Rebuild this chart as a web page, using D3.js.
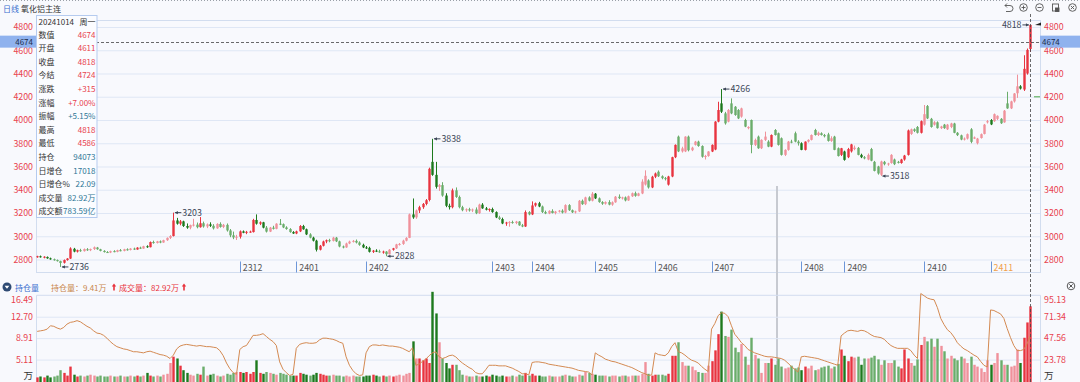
<!DOCTYPE html>
<html>
<head>
<meta charset="utf-8">
<script src="https://cdn.jsdelivr.net/npm/d3@7/dist/d3.min.js"></script>
<style>
body { margin: 0; background: #f8f9fd; }
svg { display: block; font-family: "Noto Sans CJK SC", "Noto Sans", sans-serif; }
</style>
</head>
<body>
<svg id="chart" width="1080" height="382"></svg>
<script>
// daily candles [open, high, low, close]
const candles = [
[2822,2832,2815,2828],[2828,2834,2816,2819],[2819,2828,2810,2824],[2822,2826,2806,2810],[2810,2816,2798,2802],[2802,2808,2790,2795],[2795,2800,2782,2786],[2786,2790,2736,2770],[2772,2800,2765,2795],[2795,2812,2790,2808],
[2808,2905,2805,2895],[2892,2900,2862,2868],[2868,2885,2860,2880],[2880,2892,2866,2872],[2872,2895,2868,2890],[2888,2898,2874,2880],[2880,2894,2872,2890],[2890,2912,2882,2905],[2903,2908,2884,2888],[2888,2892,2870,2874],
[2874,2880,2860,2864],[2864,2872,2856,2860],[2860,2876,2855,2872],[2872,2880,2862,2866],[2866,2884,2862,2880],[2880,2890,2870,2874],[2874,2892,2870,2888],[2888,2896,2876,2882],[2882,2898,2878,2894],[2894,2902,2882,2886],
[2886,2906,2884,2902],[2902,2910,2890,2894],[2894,2918,2892,2914],[2914,2922,2900,2906],[2906,2955,2904,2950],[2950,2962,2936,2942],[2942,2960,2938,2956],[2956,2964,2940,2946],[2946,2970,2944,2966],[2966,2990,2960,2986],
[2986,3010,2976,3002],[3002,3203,2998,3136],[3136,3158,3100,3108],[3108,3140,3094,3128],[3128,3134,3080,3088],[3088,3110,3064,3074],[3074,3100,3060,3096],[3096,3150,3084,3100],[3100,3118,3068,3078],[3078,3165,3074,3112],
[3112,3126,3074,3084],[3084,3110,3070,3102],[3102,3120,3080,3090],[3090,3104,3058,3068],[3068,3112,3064,3106],[3106,3120,3074,3080],[3080,3106,3070,3098],[3098,3110,3040,3050],[3050,3062,2992,3008],[3008,3040,2975,2990],
[2990,3012,2968,2996],[2996,3050,2980,3042],[3042,3050,3026,3030],[3030,3046,3018,3038],[3038,3048,3030,3040],[3036,3150,3032,3140],[3140,3188,3100,3108],[3108,3128,3096,3120],[3120,3124,3068,3074],[3074,3088,3032,3040],
[3040,3080,3036,3074],[3074,3090,3058,3064],[3064,3112,3060,3108],[3108,3148,3096,3104],[3104,3110,3070,3076],[3076,3086,3056,3062],[3062,3070,3030,3036],[3036,3044,3020,3024],[3024,3048,3018,3042],[3042,3096,3036,3088],
[3088,3098,3056,3060],[3060,3066,3010,3016],[3016,3026,2982,2988],[2988,2996,2955,2962],[2962,2970,2869,2884],[2884,2925,2878,2918],[2918,2962,2912,2955],[2955,2972,2940,2966],[2966,2978,2948,2960],[2960,2995,2955,2988],
[2988,2994,2950,2956],[2956,2962,2905,2912],[2912,2920,2896,2904],[2904,2945,2900,2938],[2938,2962,2932,2954],[2954,2968,2946,2960],[2960,2972,2938,2946],[2946,2956,2918,2926],[2926,2936,2898,2904],[2904,2916,2890,2900],
[2900,2910,2860,2866],[2866,2882,2856,2876],[2876,2888,2864,2870],[2870,2884,2858,2862],[2862,2876,2850,2868],[2868,2872,2828,2846],[2846,2890,2842,2884],[2884,2900,2876,2896],[2896,2935,2890,2930],[2930,2942,2920,2934],
[2934,2970,2926,2962],[2962,2992,2956,2986],[2986,3195,2984,3188],[3188,3325,3150,3162],[3162,3230,3150,3222],[3222,3262,3200,3250],[3250,3286,3236,3278],[3278,3320,3266,3310],[3312,3590,3300,3580],[3640,3838,3520,3528],
[3528,3640,3410,3425],[3425,3450,3390,3440],[3440,3465,3340,3350],[3350,3370,3250,3262],[3262,3280,3230,3250],[3250,3410,3240,3395],[3395,3420,3330,3338],[3338,3350,3240,3250],[3250,3262,3215,3224],[3224,3240,3210,3232],
[3232,3245,3212,3222],[3222,3238,3208,3230],[3230,3248,3190,3198],[3198,3280,3192,3272],[3272,3285,3236,3240],[3240,3252,3222,3228],[3228,3240,3212,3234],[3234,3246,3202,3208],[3208,3214,3156,3162],[3162,3176,3140,3148],
[3148,3160,3104,3110],[3110,3124,3090,3118],[3118,3130,3082,3122],[3122,3134,3108,3114],[3114,3132,3104,3126],[3126,3130,3090,3094],[3094,3106,3078,3084],[3084,3222,3080,3208],[3208,3216,3180,3188],[3188,3300,3182,3265],
[3265,3290,3254,3284],[3284,3296,3250,3256],[3256,3264,3200,3208],[3208,3220,3190,3196],[3196,3224,3190,3218],[3218,3232,3196,3200],[3200,3218,3188,3212],[3212,3226,3204,3220],[3220,3232,3196,3204],[3204,3275,3198,3268],
[3268,3276,3218,3224],[3224,3230,3200,3206],[3206,3220,3196,3214],[3214,3312,3208,3305],[3305,3316,3270,3276],[3276,3340,3268,3334],[3334,3344,3300,3306],[3306,3380,3300,3366],[3366,3372,3320,3326],[3326,3334,3288,3294],
[3294,3302,3270,3280],[3280,3300,3272,3294],[3294,3310,3266,3272],[3272,3300,3262,3292],[3292,3346,3288,3340],[3340,3360,3320,3328],[3328,3340,3316,3334],[3334,3342,3300,3308],[3308,3350,3304,3344],[3344,3376,3338,3370],
[3370,3384,3340,3348],[3348,3374,3344,3368],[3368,3490,3362,3470],[3445,3567,3436,3520],[3480,3490,3410,3420],[3420,3520,3414,3512],[3512,3548,3500,3540],[3555,3566,3510,3516],[3516,3524,3490,3500],[3500,3510,3480,3494],
[3444,3520,3436,3514],[3514,3684,3508,3680],[3680,3790,3672,3786],[3857,3866,3724,3730],[3730,3770,3720,3756],[3730,3860,3724,3857],[3857,3866,3730,3740],[3740,3770,3732,3762],[3786,3820,3780,3814],[3814,3822,3770,3776],
[3776,3782,3676,3684],[3684,3700,3660,3690],[3690,3732,3684,3729],[3729,3790,3724,3786],[3746,3990,3740,3986],[3986,4157,3980,4086],[4143,4266,4060,4071],[4057,4070,3960,3971],[3986,4094,3980,4086],[4143,4186,4050,4057],
[4114,4120,4036,4043],[4086,4094,4008,4014],[4029,4106,4020,4100],[4000,4010,3938,3943],[3930,3946,3920,3940],[4000,4004,3714,3786],[3786,3840,3776,3829],[3857,3866,3752,3757],[3757,3834,3750,3829],[3829,3900,3820,3857],
[3814,3826,3766,3771],[3771,3876,3766,3871],[3914,3922,3866,3871],[3886,3892,3780,3786],[3843,3850,3694,3700],[3700,3748,3690,3743],[3743,3820,3736,3814],[3814,3830,3800,3810],[3886,3900,3808,3814],[3814,3826,3780,3800],
[3800,3808,3740,3743],[3743,3816,3738,3814],[3814,3834,3806,3829],[3829,3876,3824,3871],[3914,3924,3866,3871],[3871,3900,3862,3890],[3886,3894,3866,3871],[3871,3880,3850,3860],[3876,3890,3814,3820],[3820,3860,3812,3843],
[3857,3864,3740,3743],[3757,3764,3686,3690],[3700,3760,3690,3757],[3729,3736,3650,3657],[3680,3760,3672,3750],[3730,3795,3720,3790],[3750,3780,3740,3762],[3760,3768,3696,3700],[3700,3710,3672,3680],[3680,3690,3662,3670],
[3660,3712,3654,3700],[3750,3760,3645,3650],[3640,3648,3558,3562],[3600,3606,3530,3540],[3529,3650,3518,3643],[3640,3648,3610,3620],[3620,3632,3606,3626],[3630,3706,3624,3700],[3660,3668,3612,3620],[3640,3648,3626,3636],
[3630,3666,3624,3660],[3660,3700,3650,3694],[3700,3918,3694,3910],[3880,3926,3872,3920],[3920,3928,3896,3906],[3940,3948,3884,3890],[3890,3996,3884,3990],[3960,4129,3952,4050],[4120,4129,4008,4014],[4010,4018,3934,3940],
[3960,3990,3952,3980],[3980,3988,3926,3930],[3930,3950,3922,3944],[3960,3966,3924,3930],[3920,3966,3914,3960],[3940,3976,3930,3970],[3970,3976,3886,3890],[3890,3896,3862,3870],[3868,3874,3826,3832],[3832,3850,3824,3840],
[3840,3884,3832,3878],[3920,3930,3800,3812],[3840,3858,3836,3850],[3800,3846,3790,3840],[3845,3884,3840,3878],[3880,3966,3876,3960],[3980,4000,3970,3990],[4000,4008,3956,3962],[3990,4056,3984,4050],[4010,4040,4000,4036],
[4010,4016,3966,3972],[3980,4086,3976,4080],[4143,4243,4096,4100],[4100,4166,4094,4160],[4160,4232,4150,4228],[4230,4390,4190,4290],[4290,4300,4262,4270],[4262,4557,4250,4440],[4400,4615,4390,4603],[4611,4818,4586,4818]
];

// volume, 万手
const volume = [
4,5,4,6,4,5,6,12,9,6, 16,7,5,6,5,6,7,6,5,6, 5,5,6,5,5,6,5,5,6,5, 6,5,6,9,6,5,6,5,7,8,
20,27,25,17,12,9,7,6,8,7, 16,6,7,8,6,5,6,8,7,9, 10,10,9,10,8,10,23,9,8,10, 9,8,7,9,8,7,6,6,6,9,
8,7,6,7,9,8,7,6,6,7, 6,6,5,6,5,6,5,5,5,6, 6,7,6,5,6,5,6,5,6,7, 6,8,9,44,25,25,23,25,20,99,
75,43,25,20,14,18,18,12,7,6, 5,5,6,5,5,6,5,7,6,5, 6,5,5,6,5,7,6,9,6,8, 6,6,5,5,6,5,5,5,6,7,
6,5,5,7,6,10,9,8,7,6, 6,6,5,6,6,5,6,6,5,6, 6,6,8,21,8,6,7,7,7,6, 8,28,28,43,21,17,17,16,12,10,
9,9,17,22,34,52,77,50,49,57, 37,32,41,27,18,48,29,25,9,20, 20,25,18,25,16,14,15,17,14,15, 12,16,14,17,12,13,15,16,17,14,
16,19,35,28,22,27,26,27,18,25, 25,26,28,24,18,23,20,20,23,16, 14,35,25,20,17,24,40,49,44,47, 38,47,39,33,25,28,25,23,27,25,
20,27,18,16,14,10,23,18,20,31, 23,18,18,16,17,35,20,48,65,82.92
];

// open interest, 万手
const openInt = [
10.1,10.2,10.3,10.5,11.1,11.0,10.7,10.5,10.8,11.4, 11.7,11.8,12.0,11.8,11.4,11.0,10.7,10.2,9.8,9.7,
9.4,8.9,8.3,7.8,7.4,7.2,7.0,6.9,6.7,6.5, 6.5,6.4,6.3,6.5,6.6,6.4,6.2,6.0,5.9,5.7,
5.3,5.9,7.0,7.5,7.7,7.8,7.7,7.6,7.5,7.6, 7.5,7.4,7.4,7.3,7.2,6.7,5.8,4.5,3.5,2.8,
2.5,6.9,7.4,7.6,8.5,9.4,9.4,9.5,9.7,9.2, 8.7,8.3,7.6,4.7,3.4,2.8,2.3,2.5,7.1,7.8,
8.0,8.1,8.0,8.0,8.1,8.6,8.9,8.9,8.8,8.7, 8.5,8.2,8.0,5.6,4.1,3.2,2.6,2.3,2.4,6.3,
7.4,7.7,7.7,7.6,7.7,7.6,7.5,7.5,7.4,7.3, 7.1,6.8,6.5,7.2,4.1,4.3,4.8,5.2,5.8,6.3,
6.5,5.6,5.3,5.5,5.8,5.9,5.6,5.0,4.5,4.1, 3.7,3.4,2.8,2.6,2.6,3.3,4.1,4.1,4.1,4.0,
4.0,4.0,3.8,3.6,3.3,3.0,2.6,2.6,2.4,4.6, 4.7,4.7,4.6,4.5,4.3,4.2,4.1,4.0,3.9,3.8,
3.7,3.6,3.4,3.2,3.1,3.0,2.9,2.4,6.3,5.9, 5.6,5.2,5.0,4.8,4.7,4.5,4.3,4.1,3.9,3.7,
3.4,3.1,2.8,2.6,2.3,2.4,6.3,6.0,5.9,5.8, 6.3,7.4,8.1,6.5,6.3,5.9,5.4,5.0,4.8,4.5,
3.9,3.4,3.0,10.5,11.5,12.9,13.4,13.3,12.7,11.1, 9.6,8.9,8.1,7.6,6.9,6.6,6.3,6.1,5.9,5.7,
5.6,5.6,5.5,5.4,5.3,5.0,4.5,3.9,3.4,2.9, 5.6,5.7,5.6,5.5,5.4,5.3,5.1,4.9,4.7,4.5,
4.3,4.1,9.3,9.8,10.2,10.3,10.2,10.1,10.3,10.2, 9.9,9.5,9.2,9.1,9.0,8.7,8.1,7.6,7.3,7.1,
7.1,7.1,7.1,6.7,5.9,5.3,16.8,16.4,16.0,15.8, 15.7,14.3,12.4,11.3,10.4,9.9,9.1,8.1,7.5,7.0,
6.7,6.3,5.9,5.6,4.8,4.1,3.8,13.9,13.8,13.5, 13.2,12.4,10.6,9.0,7.6,6.7,6.7,6.9,7.9,9.41
];

// main contract rolls shown on the date band
const rollNames = ["2312","2401","2402","2403","2404","2405","2406","2407","2408","2409","2410","2411"];
const rollIndex = [61,78,99,137,149,168,186,203,230,243,267,287];

const priceTicks = [2800,3000,3200,3400,3600,3800,4000,4200,4400,4600,4800];
const oiTicks = [5.11,8.91,12.70,16.49];
const volTicks = [23.78,47.56,71.34,95.13];

// extreme-price marks: [index, "h" | "l"]
const extremes = [[7,"l"],[41,"h"],[105,"l"],[119,"h"],[206,"h"],[254,"l"]];

const crossValue = 4674;
const infoRows = [
  ["数值","4674","up"],["开盘","4611","up"],["收盘","4818","up"],["今结","4724","up"],
  ["涨跌","+315","up"],["涨幅","+7.00%","up"],["振幅","+5.15%","info"],["最高","4818","up"],
  ["最低","4586","up"],["持仓","94073","info"],["日增仓","17018","info"],["日增仓%","22.09","info"],
  ["成交量","82.92万","info"],["成交额","783.59亿","info"]
];

const RED = "#e8343f", PINK = "#f0919a", GREEN = "#1d7a1d", LGREEN = "#6aad6a";
const AXRED = "#e8424e", GRID = "#dfe7f5", FRAME = "#d2ddef";
const FONT = "Noto Sans CJK SC";

const svg = d3.select("#chart");
const plotL = 36, plotR = 1040;
const mainTop = 20.5, mainBot = 272.5;
const volTop = 295.3, volBot = 381;

const x = d3.scaleBand()
  .domain(d3.range(candles.length))
  .range([plotL, 1031.6])
  .paddingInner(0.3)
  .paddingOuter(0);
const bw = x.bandwidth();
const cx = i => x(i) + bw / 2;

const y = d3.scaleLinear().domain([2800, 4800]).range([259.5, 27]);
const yVol = d3.scaleLinear().domain([0, 95.13]).range([volBot, volTop]);
const yOI = d3.scaleLinear().domain([1.32, 16.49]).range([volBot, volTop]);

const isUp = d => d[3] >= d[0];
const isLight = i => i > 0 && openInt[i] < openInt[i - 1];
const colorOf = i => isUp(candles[i]) ? (isLight(i) ? PINK : RED) : (isLight(i) ? LGREEN : GREEN);

const styleAxis = g => g.call(g => g.select(".domain").remove())
  .call(g => g.selectAll("text").attr("fill", AXRED).attr("font-size", 8.8).attr("font-family", FONT));

// top dotted border
svg.append("line").attr("x1", 0).attr("x2", 1080).attr("y1", 0.5).attr("y2", 0.5)
  .attr("stroke", "#9aa0a8").attr("stroke-dasharray", "1,2");

// title
svg.append("text").attr("x", 3).attr("y", 11.5).attr("font-size", 8).attr("fill", "#3a6fcf").text("日线");
svg.append("text").attr("x", 21).attr("y", 11.5).attr("font-size", 8).attr("fill", "#333").text("氧化铝主连");

// ---------- main price panel ----------
svg.append("g")
  .attr("transform", `translate(${plotL},0)`)
  .call(d3.axisLeft(y).tickValues(priceTicks).tickSize(-(plotR - plotL)).tickFormat(""))
  .call(g => g.select(".domain").remove())
  .call(g => g.selectAll("line").attr("stroke", GRID));

svg.append("rect")
  .attr("x", plotL + 0.5).attr("y", mainTop)
  .attr("width", plotR - plotL).attr("height", mainBot - mainTop)
  .attr("fill", "none").attr("stroke", FRAME);

svg.append("g")
  .attr("transform", `translate(${plotL},0)`)
  .call(d3.axisLeft(y).tickValues(priceTicks).tickSize(0).tickPadding(3).tickFormat(d3.format("d")))
  .call(styleAxis);

svg.append("g")
  .attr("transform", `translate(${plotR},0)`)
  .call(d3.axisRight(y).tickValues(priceTicks).tickSize(0).tickPadding(4).tickFormat(d3.format("d")))
  .call(styleAxis);

// contract roll band
const rolls = svg.append("g");
rollIndex.forEach((idx, k) => {
  rolls.append("line").attr("x1", Math.round(cx(idx)) + 0.5).attr("x2", Math.round(cx(idx)) + 0.5)
    .attr("y1", 261.5).attr("y2", 272.5).attr("stroke", "#6d96d8");
  rolls.append("text").attr("x", cx(idx) + 3).attr("y", 270.5)
    .attr("font-size", 8.8).attr("fill", k === rollNames.length - 1 ? "#f0a04b" : "#555")
    .text(rollNames[k]);
});

// scroll marker
svg.append("line").attr("x1", 777).attr("x2", 777).attr("y1", 186).attr("y2", 382)
  .attr("stroke", "#c7cad1").attr("stroke-width", 2);

// candles
const cg = svg.append("g").selectAll("g").data(candles).join("g");
cg.append("line")
  .attr("x1", (d, i) => Math.round(cx(i)) + 0.5).attr("x2", (d, i) => Math.round(cx(i)) + 0.5)
  .attr("y1", d => y(d[1])).attr("y2", d => y(d[2]))
  .attr("stroke", (d, i) => colorOf(i));
cg.append("rect")
  .attr("x", (d, i) => Math.round(cx(i)) - 0.7)
  .attr("width", 2.4)
  .attr("y", d => y(Math.max(d[0], d[3])))
  .attr("height", d => Math.max(1, Math.abs(y(d[0]) - y(d[3]))))
  .attr("fill", (d, i) => colorOf(i));

// extreme labels
const ann = svg.append("g").attr("font-size", 8.8).attr("fill", "#3b4657");
extremes.forEach(([i, t]) => {
  const v = t === "h" ? candles[i][1] : candles[i][2];
  const yy = y(v);
  ann.append("line").attr("x1", cx(i) + 1.5).attr("x2", cx(i) + 8).attr("y1", yy).attr("y2", yy)
    .attr("stroke", "#3b4657");
  ann.append("path").attr("d", `M${cx(i) + 1.5},${yy} l3,-1.6 v3.2 z`).attr("fill", "#3b4657");
  ann.append("text").attr("x", cx(i) + 9).attr("y", yy + 3.2).text(v);
});
{
  const last = candles.length - 1, v = candles[last][1], yy = y(v);
  ann.append("line").attr("x1", cx(last) - 8).attr("x2", cx(last) - 1.5).attr("y1", yy).attr("y2", yy)
    .attr("stroke", "#3b4657");
  ann.append("path").attr("d", `M${cx(last) - 1.5},${yy} l-3,-1.6 v3.2 z`).attr("fill", "#3b4657");
  ann.append("text").attr("x", cx(last) - 9).attr("y", yy + 3.2).attr("text-anchor", "end").text(v);
}

// small markers at right edge
svg.append("line").attr("x1", 1034).attr("x2", 1040).attr("y1", y(4200)).attr("y2", y(4200))
  .attr("stroke", "#7fbf7f").attr("stroke-width", 1.5);
svg.append("path").attr("d", `M1035,${y(4800) - 2} l6,-2.5 v3 z`).attr("fill", "#222");

// ---------- volume / open interest panel ----------
svg.append("g")
  .attr("transform", `translate(${plotL},0)`)
  .call(d3.axisLeft(yOI).tickValues(oiTicks.slice(0, 3)).tickSize(-(plotR - plotL)).tickFormat(""))
  .call(g => g.select(".domain").remove())
  .call(g => g.selectAll("line").attr("stroke", GRID));

svg.append("path")
  .attr("d", `M${plotL + 0.5},${volBot + 2}V${volTop}H${plotR + 0.5}V${volBot + 2}`)
  .attr("fill", "none").attr("stroke", FRAME);

svg.append("g")
  .attr("transform", `translate(${plotL},0)`)
  .call(d3.axisLeft(yOI).tickValues(oiTicks).tickSize(0).tickPadding(3).tickFormat(d3.format(".2f")))
  .call(styleAxis)
  .call(g => g.selectAll(".tick").filter(d => d === 16.49).select("text").attr("dy", "0.85em"));

svg.append("g")
  .attr("transform", `translate(${plotR},0)`)
  .call(d3.axisRight(yVol).tickValues(volTicks).tickSize(0).tickPadding(4).tickFormat(d3.format(".2f")))
  .call(styleAxis)
  .call(g => g.selectAll(".tick").filter(d => d === 95.13).select("text").attr("dy", "0.85em"));

svg.append("text").attr("x", 33).attr("y", 379).attr("text-anchor", "end")
  .attr("font-size", 9.5).attr("fill", "#333").text("万");
svg.append("text").attr("x", 1044).attr("y", 379)
  .attr("font-size", 9.5).attr("fill", "#333").text("万");

// volume bars
svg.append("g").selectAll("rect").data(volume).join("rect")
  .attr("x", (d, i) => Math.round(cx(i)) - 0.7)
  .attr("width", 2.4)
  .attr("y", d => yVol(d))
  .attr("height", d => 382 - yVol(d))
  .attr("fill", (d, i) => colorOf(i));

// open interest line
svg.append("path")
  .datum(openInt)
  .attr("d", d3.line().x((d, i) => cx(i)).y(d => yOI(d)))
  .attr("fill", "none").attr("stroke", "#d48a52").attr("stroke-width", 1);

// legend row
svg.append("circle").attr("cx", 7).attr("cy", 287).attr("r", 4.5).attr("fill", "#2e4a73");
svg.append("path").attr("d", "M4.6,285.8 h4.8 l-2.4,3 z").attr("fill", "#fff");
svg.append("text").attr("x", 15).attr("y", 290.5).attr("font-size", 8).attr("fill", "#3a6fcf").text("持仓量");
svg.append("text").attr("x", 51).attr("y", 290.5).attr("font-size", 8).attr("fill", "#c8864b")
  .text("持仓量：" + openInt[openInt.length - 1] + "万");
const arrow = (ax) => svg.append("path")
  .attr("d", `M${ax},283.5 l-2.2,3 h1.4 v4 h1.6 v-4 h1.4 z`).attr("fill", "#e8323c");
arrow(114);
svg.append("text").attr("x", 119).attr("y", 290.5).attr("font-size", 8).attr("fill", "#e8323c")
  .text("成交量：" + volume[volume.length - 1].toFixed(2) + "万");
arrow(184);

// panel close icon
svg.append("circle").attr("cx", 1071).attr("cy", 286).attr("r", 3.8).attr("fill", "none").attr("stroke", "#555");
svg.append("path").attr("d", "M1069.3,284.3 l3.4,3.4 M1072.7,284.3 l-3.4,3.4").attr("stroke", "#555");

// ---------- crosshair ----------
const lastX = Math.round(cx(candles.length - 1)) + 0.5;
svg.append("line").attr("x1", plotL).attr("x2", plotR).attr("y1", Math.round(y(crossValue)) + 0.5).attr("y2", Math.round(y(crossValue)) + 0.5)
  .attr("stroke", "#444").attr("stroke-dasharray", "3,2").attr("stroke-width", 0.8);
svg.append("line").attr("x1", lastX).attr("x2", lastX).attr("y1", 14).attr("y2", 382)
  .attr("stroke", "#444").attr("stroke-dasharray", "3,2").attr("stroke-width", 0.8);

// value boxes cover the 4600 tick labels, as in the original
const boxY = y(crossValue) - 6;
svg.append("rect").attr("x", 0).attr("y", boxY).attr("width", plotL).attr("height", 12).attr("fill", "#8fb2ee");
svg.append("text").attr("x", 33).attr("y", boxY + 9).attr("text-anchor", "end").attr("font-size", 8).attr("fill", "#1d2d4a").text(crossValue);
svg.append("rect").attr("x", plotR).attr("y", boxY).attr("width", 1080 - plotR).attr("height", 12).attr("fill", "#8fb2ee");
svg.append("text").attr("x", plotR + 2).attr("y", boxY + 9).attr("font-size", 8).attr("fill", "#1d2d4a").text(crossValue);

// ---------- info box ----------
const ib = svg.append("g").attr("font-size", 8);
ib.append("rect").attr("x", 36.5).attr("y", 15.5).attr("width", 60.5).attr("height", 202)
  .attr("fill", "#fbfcff").attr("stroke", "#b5cbef");
ib.append("text").attr("x", 38.5).attr("y", 24.5).attr("fill", "#333").text("20241014");
ib.append("text").attr("x", 95.5).attr("y", 24.5).attr("fill", "#333").attr("text-anchor", "end").text("周一");
infoRows.forEach((r, k) => {
  const yy = 37.5 + k * 13.6;
  ib.append("text").attr("x", 38.5).attr("y", yy).attr("fill", "#333").text(r[0]);
  ib.append("text").attr("x", 95.5).attr("y", yy).attr("text-anchor", "end")
    .attr("fill", r[2] === "up" ? AXRED : "#2f7796").text(r[1]);
});

// ---------- toolbar icons ----------
const tb = svg.append("g").attr("fill", "none").attr("stroke", "#555").attr("stroke-width", 0.9);
tb.append("path").attr("d", "M1005,5.5 h5 a3,3 0 0 1 0,6 h-4");
tb.append("path").attr("d", "M1007,3.5 l-2,2 l2,2");
tb.append("circle").attr("cx", 1023.5).attr("cy", 7.5).attr("r", 3.8);
tb.append("path").attr("d", "M1021.5,7.5 h4 M1023.5,5.5 v4");
tb.append("circle").attr("cx", 1039.5).attr("cy", 7.5).attr("r", 3.8);
tb.append("path").attr("d", "M1037.5,7.5 h4");
tb.append("rect").attr("x", 1052.5).attr("y", 4).attr("width", 6).attr("height", 7);
tb.append("rect").attr("x", 1055.5).attr("y", 8).attr("width", 3.5).attr("height", 3.5).attr("fill", "#555");
tb.append("circle").attr("cx", 1072.5).attr("cy", 7.5).attr("r", 3.8);
tb.append("path").attr("d", "M1070.8,5.8 l3.4,3.4 M1074.2,5.8 l-3.4,3.4");
</script>
</body>
</html>
